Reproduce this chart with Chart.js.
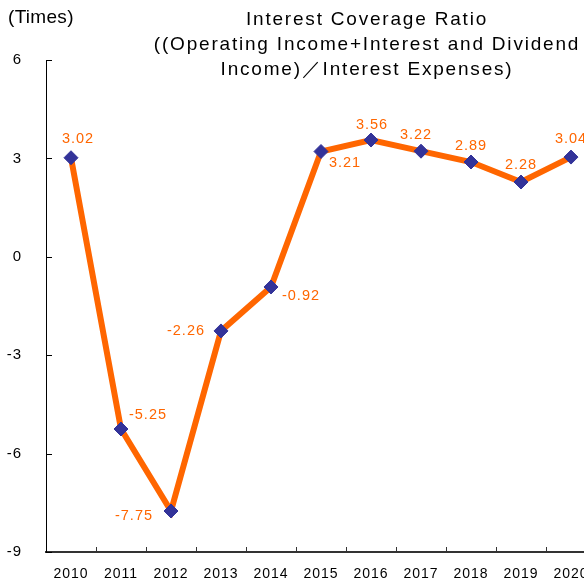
<!DOCTYPE html>
<html>
<head>
<meta charset="utf-8">
<script src="https://cdn.jsdelivr.net/npm/chart.js@4/dist/chart.umd.min.js"></script>
<style>
html,body{margin:0;padding:0;overflow:hidden;background:#fff;width:584px;height:585px}
canvas{display:block}
</style>
</head>
<body>
<canvas id="c" width="604" height="585"></canvas>
<script>
// ---- data ----
const years = ['2010','2011','2012','2013','2014','2015','2016','2017','2018','2019','2020'];
const ratioValues = [3.02, -5.25, -7.75, -2.26, -0.92, 3.21, 3.56, 3.22, 2.89, 2.28, 3.04];
const yTickValues = [-9, -6, -3, 0, 3, 6];
const titleLines = ['Interest Coverage Ratio', '((Operating Income+Interest and Dividend', 'Income)\uFF0FInterest Expenses)'];
const unitLabel = '(Times)';

// ---- style ----
const FONT = '"Liberation Sans", Arial, Helvetica, sans-serif';
const ORANGE = '#FF6600';
const NAVY = '#333399';
// label offsets (px) relative to each point
const labelOffsets = [[7,-19],[27,-14],[-37,5],[-35,0],[30,9],[24,11],[1,-15],[-5,-16],[0,-16],[0,-17],[0,-18]];

const spacingPlugin = {
  id: 'spacing',
  beforeLayout(chart) { chart.ctx.letterSpacing = '1px'; },
  beforeDraw(chart) { chart.ctx.letterSpacing = '1px'; }
};

const innerTicksPlugin = {
  id: 'innerTicks',
  beforeDatasetsDraw(chart) {
    const {ctx, scales: {x, y}, chartArea: a} = chart;
    ctx.save();
    ctx.strokeStyle = '#000';
    ctx.lineWidth = 1;
    yTickValues.forEach(v => {
      const py = Math.round(y.getPixelForValue(v)) + 0.5;
      ctx.beginPath(); ctx.moveTo(a.left, py); ctx.lineTo(a.left + 6, py); ctx.stroke();
    });
    const half = (x.getPixelForValue(1) - x.getPixelForValue(0)) / 2;
    ctx.strokeStyle = '#333';
    for (let i = 0; i < years.length; i++) {
      const px = Math.round(x.getPixelForValue(i) + half) + 0.5;
      ctx.beginPath(); ctx.moveTo(px, a.bottom); ctx.lineTo(px, a.bottom - 5); ctx.stroke();
    }
    ctx.restore();
  }
};

const dataLabelPlugin = {
  id: 'dataLabels',
  afterDatasetsDraw(chart) {
    const {ctx} = chart;
    const meta = chart.getDatasetMeta(0);
    ctx.save();
    ctx.letterSpacing = '1px';
    ctx.font = '14.5px ' + FONT;
    ctx.fillStyle = ORANGE;
    ctx.textAlign = 'center';
    ctx.textBaseline = 'middle';
    meta.data.forEach((pt, i) => {
      const off = labelOffsets[i];
      ctx.fillText(ratioValues[i].toFixed(2), pt.x + off[0], pt.y + off[1]);
    });
    ctx.restore();
  }
};

const titlePlugin = {
  id: 'titleText',
  afterDraw(chart) {
    const {ctx} = chart;
    ctx.save();
    ctx.fillStyle = '#000';
    ctx.textBaseline = 'middle';
    ctx.letterSpacing = '0.3px';
    ctx.font = '19px ' + FONT;
    ctx.textAlign = 'left';
    ctx.fillText(unitLabel, 8, 18);
    ctx.letterSpacing = '1.8px';
    ctx.font = '19px ' + FONT;
    ctx.textAlign = 'center';
    titleLines.forEach((t, i) => ctx.fillText(t, 367, 20 + i * 25));
    ctx.restore();
  }
};

new Chart(document.getElementById('c'), {
  type: 'line',
  data: {
    labels: years,
    datasets: [{
      data: ratioValues,
      borderColor: ORANGE,
      borderWidth: 6,
      tension: 0,
      pointStyle: 'rectRot',
      pointRadius: 7,
      pointBackgroundColor: NAVY,
      pointBorderColor: NAVY,
      pointBorderWidth: 1,
      clip: false
    }]
  },
  options: {
    responsive: false,
    animation: false,
    devicePixelRatio: 1,
    layout: {padding: {top: 60, right: 0, left: 0, bottom: 0}},
    plugins: {legend: {display: false}, tooltip: {enabled: false}, title: {display: false}},
    scales: {
      x: {
        type: 'category',
        offset: true,
        grid: {display: false, drawTicks: false},
        border: {display: true, color: '#333', width: 2},
        ticks: {font: {family: FONT, size: 14}, color: '#000', padding: 14, maxRotation: 0, autoSkip: false},
        afterFit(s) { s.height = 31; }
      },
      y: {
        min: -9, max: 6,
        grid: {display: false, drawTicks: false},
        border: {display: true, color: '#000', width: 1},
        ticks: {stepSize: 3, font: {family: FONT, size: 15}, color: '#000', padding: 24},
        afterFit(s) { s.width = 46; }
      }
    }
  },
  plugins: [spacingPlugin, innerTicksPlugin, dataLabelPlugin, titlePlugin]
});
</script>
</body>
</html>
